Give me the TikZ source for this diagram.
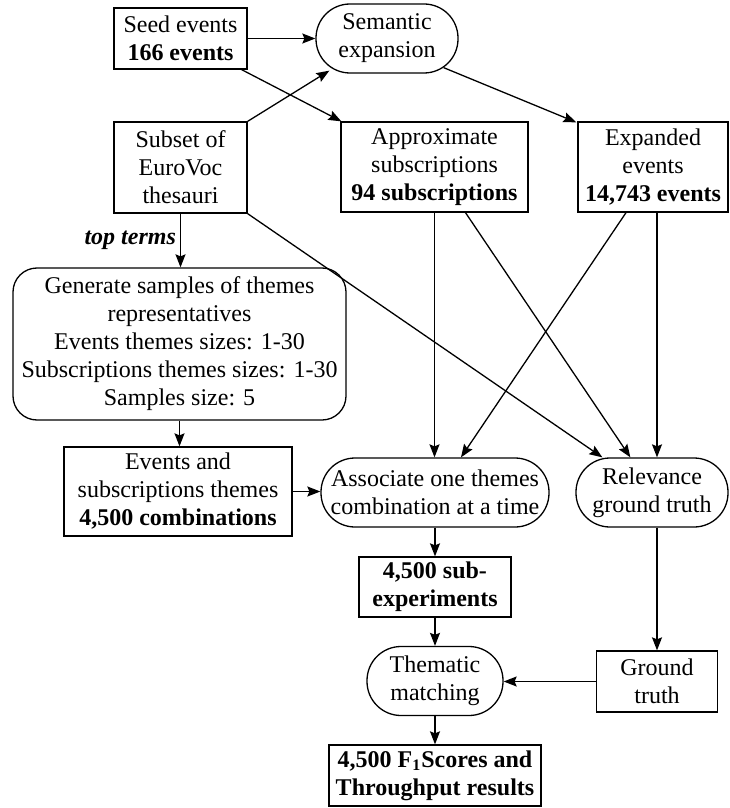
\documentclass[tikz,border=0pt]{standalone}
\usepackage{fontspec}
\setmainfont{Liberation Serif}
\usetikzlibrary{arrows.meta,calc}
\begin{document}
\begin{tikzpicture}[x=0.5pt,y=-0.5pt,
  box/.style={draw, line width=0.65pt, align=center, inner sep=0pt, font=\fontsize{12}{14}\selectfont},
  pill/.style={box, rounded corners=17pt},
  roundbox/.style={box, rounded corners=12pt},
  arr/.style={-{Stealth[length=6.5pt,width=5pt,inset=1pt]}, line width=0.65pt}]
\useasboundingbox (0,0) rectangle (729,808);
\node[box, minimum width=66.5pt, minimum height=30.5pt] (seed) at (180.5,38.5) {Seed events\\\textbf{166 events}};
\node[pill, minimum width=71pt, minimum height=34.5pt] (sem) at (387,38.5) {Semantic\\expansion};
\node[box, minimum width=66.5pt, minimum height=45.5pt] (subset) at (180.5,167.5) {Subset of\\EuroVoc\\thesauri};
\node[box, minimum width=93.5pt, minimum height=45pt] (approx) at (434.5,167) {Approximate\\subscriptions\\\textbf{94 subscriptions}};
\node[box, minimum width=75pt, minimum height=45pt] (exp) at (653,167) {Expanded\\events\\\textbf{14,743 events}};
\node[roundbox, minimum width=166.5pt, minimum height=76pt] (gen) at (179.5,344) {Generate samples of themes\\representatives\\Events themes sizes: 1-30\\Subscriptions themes sizes: 1-30\\Samples size: 5};
\node[box, minimum width=114pt, minimum height=44.5pt] (evs) at (178,491.5) {Events and\\subscriptions themes\\\textbf{4,500 combinations}};
\node[pill, minimum width=114pt, minimum height=34.5pt] (assoc) at (435,492.5) {Associate one themes\\combination at a time};
\node[pill, minimum width=76pt, minimum height=34.5pt] (rel) at (652,492.5) {Relevance\\ground truth};
\node[box, minimum width=76pt, minimum height=30pt] (subexp) at (435,587) {\textbf{4,500 sub-}\\\textbf{experiments}};
\node[pill, minimum width=68pt, minimum height=34.5pt] (them) at (435,681) {Thematic\\matching};
\node[box, minimum width=60.5pt, minimum height=30.5pt] (gt) at (657,681.5) {Ground\\truth};
\node[box, minimum width=106pt, minimum height=30.5pt] (f1) at (435,775.5) {\textbf{4,500 F\textsubscript{1}Scores and}\\\textbf{Throughput results}};

\draw[arr] (seed.east) -- (seed.east -| sem.west);
\draw[arr] (subset.north east) -- ($(sem.south west)+(14,-3)$);
\draw[arr] ($(seed.south east)+(-6,0)$) -- ($(approx.north west)+(1,0)$);
\draw[arr] ($(sem.south east)+(-15,-6)$) -- ($(exp.north west)+(-1,1)$);
\draw[arr] (subset.south) -- node[midway, left, inner sep=2pt, font=\fontsize{12}{14}\selectfont\bfseries\itshape] (tt) {top terms} (subset.south |- gen.north);
\draw[arr] (subset.south east) -- ($(rel.north west)+(27,0)$);
\draw[arr] (approx.south) -- (approx.south |- assoc.north);
\draw[arr] ($(approx.south)+(31,0)$) -- ($(rel.north west)+(55,0)$);
\draw[arr] ($(exp.south)+(-27,0)$) -- ($(assoc.north)+(26,0)$);
\draw[arr] ($(exp.south)+(4,0)$) coordinate (e1) -- (e1 |- rel.north);
\draw[arr] (gen.south) -- (gen.south |- evs.north);
\draw[arr] (evs.east) -- (evs.east -| assoc.west);
\draw[arr] (assoc.south) -- (subexp.north);
\draw[arr] (subexp.south) -- (them.north);
\draw[arr] (them.south) -- (f1.north);
\draw[arr] (gt.north |- rel.south) -- (gt.north);
\draw[arr] (gt.west) -- (gt.west -| them.east);
\end{tikzpicture}
\end{document}
